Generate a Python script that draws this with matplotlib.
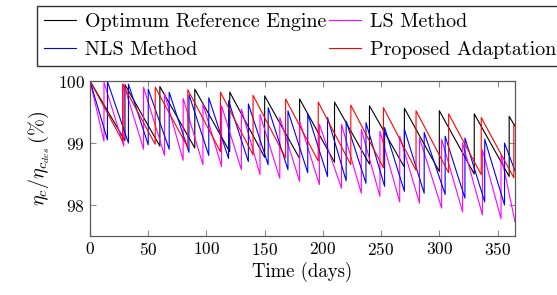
import matplotlib
matplotlib.use("Agg")
import matplotlib.pyplot as plt

plt.rcParams['font.family'] = 'serif'
plt.rcParams['font.serif'] = ['cmr10']
plt.rcParams['mathtext.fontset'] = 'cm'
plt.rcParams['axes.formatter.use_mathtext'] = True

end_day = 365

# Optimum reference engine (wash every 30 days)
ref_wash = [30, 60, 90, 120, 150, 180, 210, 240, 270, 300, 330, 360]
ref_peak = [100, 99.94, 99.91, 99.87, 99.82, 99.76, 99.71, 99.66, 99.60, 99.56, 99.52, 99.47, 99.43]
ref_trough = [99.04, 98.95, 98.92, 98.86, 98.77, 98.75, 98.69, 98.66, 98.61, 98.54, 98.50, 98.46]
ref_end = 99.27

# NLS method
nls_wash = [15, 33, 50, 68, 85, 102, 119, 136, 153, 170, 187, 204, 220, 237, 253, 270, 287, 305, 322, 339, 356]
nls_peak = [100, 99.99, 99.95, 99.87, 99.82, 99.78, 99.73, 99.68, 99.63, 99.57, 99.52, 99.47,
            99.41, 99.35, 99.33, 99.25, 99.22, 99.17, 99.11, 99.08, 99.06, 99.0]
nls_trough = [99.05, 99.0, 98.97, 98.9, 98.85, 98.8, 98.75, 98.7, 98.65, 98.57, 98.52,
              98.46, 98.39, 98.35, 98.3, 98.22, 98.19, 98.17, 98.11, 98.05, 98.0]
nls_end = 98.55

# LS method
ls_wash = [12, 29, 46, 64, 80, 97, 113, 130, 146, 163, 180, 197, 216, 233, 249, 266, 283, 302, 320, 337, 353]
ls_peak = [100, 99.98, 99.95, 99.9, 99.8, 99.72, 99.63, 99.6, 99.55, 99.46, 99.41, 99.35,
           99.3, 99.3, 99.22, 99.19, 99.11, 99.08, 99.06, 99.0, 98.89, 98.81]
ls_trough = [99.03, 98.95, 98.9, 98.8, 98.72, 98.65, 98.62, 98.57, 98.49, 98.43, 98.38,
             98.33, 98.27, 98.19, 98.14, 98.05, 98.03, 97.95, 97.89, 97.84, 97.78]
ls_end = 97.73

# Proposed adaptation (wash every 28 days)
pro_wash = [28, 56, 84, 112, 140, 168, 196, 224, 252, 280, 308, 336, 364]
pro_peak = [100, 99.95, 99.9, 99.86, 99.82, 99.77, 99.71, 99.66, 99.61, 99.57, 99.52, 99.47, 99.41, 99.3]
pro_trough = [99.03, 98.98, 98.93, 98.86, 98.81, 98.76, 98.71, 98.65, 98.6, 98.56, 98.52, 98.49, 98.44]
pro_end = 99.3


def sawtooth(wash, peak, trough, end_value):
    # linear decay between washes, vertical recovery at each wash
    xs = [0]
    ys = [peak[0]]
    for d, t, p in zip(wash, trough, peak[1:]):
        xs += [d, d]
        ys += [t, p]
    xs.append(end_day)
    ys.append(end_value)
    return xs, ys


fig = plt.figure(figsize=(5.57, 2.95), dpi=100)
ax = fig.add_axes([0.1616, 0.2, 0.763, 0.5254])

lw = 0.8
l1, = ax.plot(*sawtooth(ref_wash, ref_peak, ref_trough, ref_end), color='black', lw=lw)
l2, = ax.plot(*sawtooth(ls_wash, ls_peak, ls_trough, ls_end), color='#ff00ff', lw=lw)
l3, = ax.plot(*sawtooth(nls_wash, nls_peak, nls_trough, nls_end), color='#0000ff', lw=lw)
l4, = ax.plot(*sawtooth(pro_wash, pro_peak, pro_trough, pro_end), color='#ff0000', lw=lw)

ax.set_xlim(0, 365)
ax.set_ylim(97.5, 100)
ax.set_xticks([0, 50, 100, 150, 200, 250, 300, 350])
ax.set_yticks([98, 99, 100])
ax.tick_params(direction='in', top=True, right=True, length=4, width=0.8,
               color='0.55', labelsize=12.5)
for s in ax.spines.values():
    s.set_color('0.35')
    s.set_linewidth(0.9)

ax.set_xlabel('Time (days)', fontsize=13.5, labelpad=3)
ax.set_ylabel(r'$\eta_c/\eta_{c_{des}}\,(\%)$', fontsize=14.5, labelpad=4)

leg = fig.legend([l1, l3, l2, l4],
                 ['Optimum Reference Engine', 'NLS Method', 'LS Method', 'Proposed Adaptation'],
                 ncol=2, loc='upper left', bbox_to_anchor=(0.066, 0.98),
                 fontsize=14.4, frameon=True, fancybox=False, edgecolor='black',
                 handlelength=1.6, handletextpad=0.45, columnspacing=0.15,
                 borderpad=0.35, labelspacing=0.5, borderaxespad=0)
leg.get_frame().set_linewidth(1.0)

fig.savefig('out.png', dpi=100)
